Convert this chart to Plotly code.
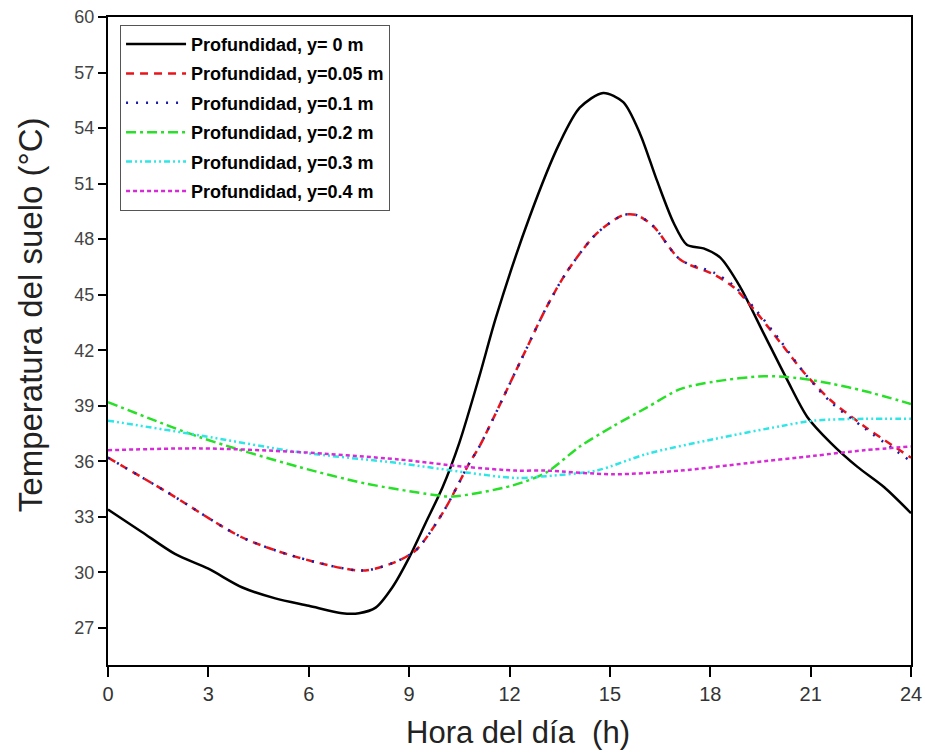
import plotly.graph_objects as go

# hour of day for each curve
hora_0 = [0, 1, 2, 3, 4, 5, 6, 7, 7.5, 8, 8.5, 9, 9.5, 10, 10.5, 11.1, 11.6, 12.6, 13.5, 14.1, 14.8,
          15.4, 15.9, 16.4, 16.9, 17.3, 17.8, 18.3, 18.9, 19.6, 20.3, 20.9, 21.6, 22.4, 23.2, 24]
temp_0 = [33.4, 32.2, 31.0, 30.2, 29.2, 28.6, 28.2, 27.8, 27.8, 28.1, 29.2, 30.8, 32.7, 34.6, 37.0, 40.6,
          43.8, 49.2, 53.2, 55.1, 55.9, 55.4, 53.7, 51.2, 48.9, 47.7, 47.5, 47.0, 45.4, 42.9, 40.4,
          38.4, 37.0, 35.7, 34.6, 33.2]

hora_005 = [0, 1.8, 4.0, 5.7, 7.6, 8.5, 9.2, 10.0, 10.8, 11.1, 12.3, 13.1, 13.7, 14.6, 15.4, 15.8,
            16.3, 17.1, 18.1, 18.7, 19.4, 20.1, 20.8, 21.6, 22.6, 24]
temp_005 = [36.2, 34.3, 31.9, 30.8, 30.1, 30.5, 31.2, 33.2, 35.9, 36.8, 41.3, 44.3, 46.2, 48.3, 49.3, 49.3,
            48.7, 46.9, 46.1, 45.4, 44.0, 42.4, 40.8, 39.3, 37.9, 36.2]

hora_01 = [0, 1.8, 4.0, 5.7, 7.6, 8.5, 9.2, 10.0, 10.8, 11.1, 12.3, 13.1, 13.7, 14.6, 15.4, 15.8,
           16.3, 17.1, 18.1, 18.7, 19.4, 20.1, 20.8, 21.6, 22.6, 24]
temp_01 = [36.2, 34.3, 31.9, 30.8, 30.1, 30.5, 31.2, 33.2, 35.9, 36.8, 41.3, 44.3, 46.2, 48.3, 49.3, 49.3,
           48.7, 46.9, 46.2, 45.5, 44.1, 42.5, 40.8, 39.2, 37.8, 36.0]

hora_02 = [0, 2.75, 5.7, 7.7, 9.7, 10.3, 12.1, 13.1, 14.1, 15.1, 16.1, 17.1, 18.1, 19.6, 20.6, 21.6,
           22.6, 24]
temp_02 = [39.2, 37.3, 35.7, 34.8, 34.2, 34.1, 34.7, 35.4, 36.8, 37.9, 38.9, 39.9, 40.3, 40.6, 40.5,
           40.2, 39.8, 39.1]

hora_03 = [0, 2.75, 5.7, 8.7, 10.7, 12.2, 13.1, 14.6, 16.1, 18.1, 20.1, 21.1, 22.6, 24]
temp_03 = [38.2, 37.4, 36.5, 35.9, 35.4, 35.1, 35.2, 35.5, 36.4, 37.2, 37.9, 38.2, 38.3, 38.3]

hora_04 = [0, 2.75, 5.7, 8.7, 10.7, 12.2, 13.1, 15.1, 17.1, 19.1, 21.1, 22.6, 24]
temp_04 = [36.6, 36.7, 36.5, 36.1, 35.7, 35.5, 35.5, 35.3, 35.5, 35.9, 36.3, 36.6, 36.8]

nombres = ["Profundidad, y= 0 m", "Profundidad, y=0.05 m", "Profundidad, y=0.1 m",
           "Profundidad, y=0.2 m", "Profundidad, y=0.3 m", "Profundidad, y=0.4 m"]

series = [
    (hora_0, temp_0, "black", "solid"),
    (hora_005, temp_005, "#e8141c", "8px,6px"),
    (hora_01, temp_01, "#1a1aa8", "2px,8px"),
    (hora_02, temp_02, "#27e027", "10px,4px,3px,4px"),
    (hora_03, temp_03, "#2ee6e6", "6px,3px,2px,3px,2px,3px"),
    (hora_04, temp_04, "#d62ad6", "4px,3px"),
]

fig = go.Figure()
for i, ((x, y, color, dash), name) in enumerate(zip(series, nombres)):
    fig.add_trace(go.Scatter(
        x=x, y=y, name=name, mode="lines", legendgroup=f"g{i}",
        line=dict(color=color, width=2.5, dash=dash, shape="spline", smoothing=0.8),
    ))

# axis titles as annotations so they can sit exactly where the original has them
fig.add_annotation(text="Hora del día  (h)", xref="paper", yref="paper", x=0.511, y=-0.104,
                   xanchor="center", yanchor="middle", showarrow=False,
                   font=dict(family="Liberation Sans, Arial", size=31, color="#222222"))
fig.add_annotation(text="Temperatura del suelo (°C)", xref="paper", yref="paper", x=-0.097, y=0.54,
                   xanchor="center", yanchor="middle", showarrow=False, textangle=-90,
                   font=dict(family="Liberation Sans, Arial", size=33, color="#222222"))

fig.update_layout(
    width=925, height=753,
    margin=dict(l=108, r=14, t=17, b=88),
    plot_bgcolor="white", paper_bgcolor="white",
    font=dict(family="Liberation Sans, Arial", color="black"),
    showlegend=True,
    legend=dict(
        x=0.015, y=0.988, xanchor="left", yanchor="top",
        bgcolor="white", bordercolor="#555555", borderwidth=1,
        font=dict(family="Liberation Sans Narrow, Liberation Sans, Arial", size=18, color="black",
                  weight="bold"),
        itemwidth=60, tracegroupgap=3,
    ),
    xaxis=dict(
        range=[0, 24], tickvals=[0, 3, 6, 9, 12, 15, 18, 21, 24],
        showgrid=False, zeroline=False, automargin=False,
        showline=True, linecolor="black", linewidth=2, mirror=True,
        ticks="outside", ticklen=10, tickwidth=2, tickcolor="black",
        tickfont=dict(family="Liberation Sans Narrow, Liberation Sans, Arial", size=20, color="#333333"),
    ),
    yaxis=dict(
        range=[25, 60], tickvals=[27, 30, 33, 36, 39, 42, 45, 48, 51, 54, 57, 60],
        showgrid=False, zeroline=False, automargin=False,
        showline=True, linecolor="black", linewidth=2, mirror=True,
        ticks="outside", ticklen=8, tickwidth=2, tickcolor="black",
        tickfont=dict(family="Liberation Sans, Arial", size=18, color="#444444"),
    ),
)

# drop the page's default body margin so the figure sits at the window corner
fig.write_html("out.html", config={"displayModeBar": False},
               post_script="document.body.style.margin='0';")
